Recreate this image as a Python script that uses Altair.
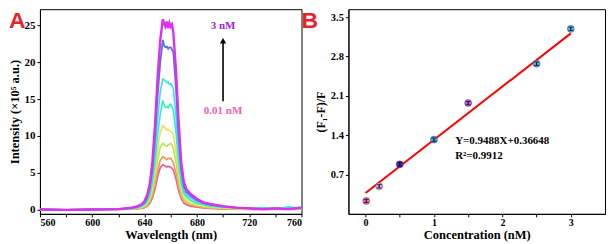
import altair as alt
import pandas as pd

# ---------- Panel A data ----------
wavelength = [560, 580, 600, 620, 630, 635, 638, 640, 642, 644, 646, 648, 650, 652, 654, 655, 656, 657,
              658, 659, 660, 661, 662, 664, 666, 668, 670, 672, 675, 680, 685, 690, 700, 710, 720, 730,
              740, 750, 760]
series_names = ["0.01 nM", "s2", "s3", "s4", "s5", "s6", "s7", "3 nM"]
series_colors = ["#f2559a", "#f3955c", "#b6e34e", "#f0e04c", "#33eec4", "#34e0ee", "#5672e4", "#de2ef2"]
pink = [0.05, 0.0, 0.05, 0.05, 0.08, 0.13, 0.22, 0.3, 0.5, 0.85, 1.6, 2.8, 4.5, 5.7, 6.1, 6.0, 5.9, 5.8,
        5.9, 5.8, 5.8, 5.6, 5.4, 4.2, 2.6, 1.5, 0.9, 0.7, 0.5, 0.35, 0.25, 0.2, 0.1, 0.1, 0.05, 0.05,
        0.1, 0.05, 0.1]
orange = [0.05, 0.0, 0.05, 0.05, 0.1, 0.16, 0.26, 0.36, 0.6, 1.0, 1.9, 3.3, 5.3, 6.7, 7.2, 7.1, 6.9, 6.8,
          7.0, 6.9, 7.0, 6.7, 6.4, 5.0, 3.1, 1.8, 1.1, 0.85, 0.65, 0.45, 0.3, 0.25, 0.15, 0.1, 0.1, 0.05,
          0.1, 0.1, 0.1]
green = [0.05, 0.0, 0.05, 0.06, 0.12, 0.2, 0.33, 0.45, 0.75, 1.3, 2.4, 4.2, 6.7, 8.5, 9.0, 8.8, 8.7, 8.6,
         8.8, 8.9, 9.0, 8.7, 8.3, 6.5, 4.0, 2.3, 1.4, 1.1, 0.8, 0.6, 0.4, 0.3, 0.2, 0.15, 0.1, 0.1,
         0.1, 0.15, 0.1]
yellow = [0.05, 0.0, 0.05, 0.07, 0.15, 0.25, 0.4, 0.55, 0.9, 1.6, 2.9, 5.2, 8.2, 10.5, 11.4, 11.2, 11.0,
          10.8, 10.9, 10.7, 10.6, 10.5, 10.2, 8.0, 4.9, 2.8, 1.7, 1.3, 1.0, 0.7, 0.5, 0.4, 0.25, 0.2,
          0.1, 0.1, 0.15, 0.1, 0.2]
aqua = [0.05, 0.0, 0.05, 0.08, 0.18, 0.3, 0.5, 0.7, 1.1, 2.0, 3.7, 6.5, 10.2, 13.0, 14.8, 14.2, 13.9,
        14.0, 13.8, 14.1, 14.3, 13.9, 13.5, 10.5, 6.4, 3.6, 2.2, 1.7, 1.3, 0.9, 0.7, 0.5, 0.35, 0.25,
        0.2, 0.15, 0.25, 0.2, 0.35]
cyan = [0.05, 0.0, 0.05, 0.1, 0.2, 0.35, 0.6, 0.85, 1.4, 2.4, 4.5, 8.0, 12.5, 16.0, 17.7, 17.6, 17.5,
        17.2, 17.3, 17.0, 17.1, 16.8, 16.4, 12.8, 7.8, 4.3, 2.6, 2.0, 1.6, 1.1, 0.8, 0.6, 0.4, 0.3,
        0.2, 0.3, 0.1, 0.4, 0.2]
blue = [0.05, 0.0, 0.05, 0.1, 0.25, 0.45, 0.7, 1.0, 1.7, 3.0, 5.5, 10.0, 15.5, 20.0, 23.0, 22.2, 22.0,
        22.1, 21.8, 22.0, 22.0, 21.7, 21.3, 16.5, 10.0, 5.5, 3.2, 2.4, 1.9, 1.3, 0.9, 0.7, 0.45, 0.3,
        0.2, 0.1, 0.2, 0.1, 0.25]
magenta = [0.05, 0.0, 0.05, 0.1, 0.3, 0.5, 0.8, 1.2, 2.0, 3.5, 6.5, 11.5, 18.0, 23.0, 25.8, 25.2, 24.8,
           25.5, 24.6, 25.3, 24.8, 25.1, 24.0, 19.0, 12.0, 6.5, 3.8, 2.8, 2.2, 1.5, 1.0, 0.8, 0.5, 0.3,
           0.2, 0.1, 0.2, 0.1, 0.3]
series_values = [pink, orange, green, yellow, aqua, cyan, blue, magenta]
series_widths = [1.6, 1.6, 1.6, 1.6, 1.6, 1.6, 1.8, 2.4]

# ---------- Panel B data ----------
conc = [0.01, 0.2, 0.5, 1.0, 1.5, 2.5, 3.0]
ratio = [0.23, 0.49, 0.88, 1.32, 1.97, 2.67, 3.29]
err = [0.03, 0.03, 0.03, 0.03, 0.03, 0.03, 0.03]
point_colors = ["#f06cc0", "#e0a8e8", "#5a2cc0", "#4aa8f0", "#c064f0", "#52b4f0", "#5ab8f0"]
fit_x = [0.0, 3.0]
fit_y = [0.37, 3.21]

SERIF = "Liberation Serif"

xA = alt.Scale(domain=[560, 760], nice=False, zero=False)
yA = alt.Scale(domain=[-0.54, 27.16], nice=False, zero=False)
axisXA = alt.Axis(title="Wavelength (nm)",
                  values=[560, 580, 600, 620, 640, 660, 680, 700, 720, 740, 760],
                  labelExpr="datum.value % 40 == 0 ? datum.label : ''",
                  tickSize=3, labelPadding=1, titlePadding=1,
                  labelFontSize=10, titleFontSize=12.5)
axisYA = alt.Axis(title="Intensity (×10⁵ a.u.)", values=[0, 5, 10, 15, 20, 25],
                  tickSize=3, labelPadding=2, titlePadding=2,
                  labelFontSize=11, titleFontSize=12.5)

layersA = []
for name, col, vals, sw in zip(series_names, series_colors, series_values, series_widths):
    df = pd.DataFrame({"wl": wavelength, "I": vals})
    layersA.append(alt.Chart(df).mark_line(color=col, strokeWidth=sw, interpolate="linear")
                   .encode(x=alt.X("wl:Q", scale=xA, axis=axisXA),
                           y=alt.Y("I:Q", scale=yA, axis=axisYA)))

ann_df = pd.DataFrame({"x": [700, 700], "y": [24.9, 13.4], "t": ["3 nM", "0.01 nM"],
                       "c": ["#9b22d6", "#f060b0"]})
ann = alt.Chart(ann_df).mark_text(font=SERIF, fontWeight="bold", fontSize=11, baseline="middle").encode(
    x=alt.X("x:Q", scale=xA, axis=axisXA), y=alt.Y("y:Q", scale=yA, axis=axisYA), text="t:N",
    color=alt.Color("c:N", scale=None))
arrow_df = pd.DataFrame({"x": [700], "y1": [14.7], "y2": [22.6]})
arrow = alt.Chart(arrow_df).mark_rule(color="black", strokeWidth=1.6).encode(
    x=alt.X("x:Q", scale=xA, axis=axisXA), y=alt.Y("y1:Q", scale=yA, axis=axisYA), y2="y2:Q")
head_df = pd.DataFrame({"x": [700], "y": [22.9]})
head = alt.Chart(head_df).mark_point(shape="triangle-up", filled=True, color="black", size=40, opacity=1).encode(
    x=alt.X("x:Q", scale=xA, axis=axisXA), y=alt.Y("y:Q", scale=yA, axis=axisYA))
labelA = alt.Chart(pd.DataFrame({"t": ["A"]})).mark_text(
    font="Liberation Sans", fontWeight="bold", fontSize=23, color="#e8232b",
    align="left", baseline="top").encode(x=alt.value(-31), y=alt.value(1), text="t:N")

panelA = alt.layer(*layersA, ann, arrow, head, labelA).properties(width=262, height=205)

# ---------- Panel B ----------
xB = alt.Scale(domain=[-0.25, 3.5], nice=False, zero=False)
yB = alt.Scale(domain=[0.0, 3.64], nice=False, zero=False)
axisXB = alt.Axis(title="Concentration (nM)", values=[0, 0.5, 1, 1.5, 2, 2.5, 3],
                  labelExpr="datum.value % 1 == 0 ? format(datum.value, 'd') : ''",
                  tickSize=3, labelPadding=1, titlePadding=1,
                  labelFontSize=10, titleFontSize=12.5)
axisYB = alt.Axis(title="(F₁-F)/F", values=[0.7, 1.4, 2.1, 2.8, 3.5],
                  format=".1f", tickSize=3, labelPadding=2, titlePadding=3,
                  labelFontSize=10.5, titleFontSize=12)
ptdf = pd.DataFrame({"c": conc, "r": ratio, "lo": [r - e for r, e in zip(ratio, err)],
                     "hi": [r + e for r, e in zip(ratio, err)], "col": point_colors})
fitdf = pd.DataFrame({"x": fit_x, "y": fit_y})

def XB(f):
    return alt.X(f, scale=xB, axis=axisXB)

def YB(f):
    return alt.Y(f, scale=yB, axis=axisYB)

fit = alt.Chart(fitdf).mark_line(color="#ff0000", strokeWidth=2).encode(x=XB("x:Q"), y=YB("y:Q"))
pts = alt.Chart(ptdf).mark_circle(size=50, opacity=1, stroke="#333333", strokeWidth=0.4).encode(
    x=XB("c:Q"), y=YB("r:Q"), color=alt.Color("col:N", scale=None))
ebar = alt.Chart(ptdf).mark_rule(color="black", strokeWidth=1).encode(
    x=XB("c:Q"), y=YB("lo:Q"), y2="hi:Q")
cap_lo = alt.Chart(ptdf).mark_tick(color="black", orient="horizontal", size=5, thickness=1).encode(
    x=XB("c:Q"), y=YB("lo:Q"))
cap_hi = alt.Chart(ptdf).mark_tick(color="black", orient="horizontal", size=5, thickness=1).encode(
    x=XB("c:Q"), y=YB("hi:Q"))
eq_df = pd.DataFrame({"x": [1.31, 1.31], "y": [1.30, 1.03], "t": ["Y=0.9488X+0.36648", "R²=0.9912"]})
eq = alt.Chart(eq_df).mark_text(font=SERIF, fontWeight="bold", fontSize=11, align="left",
                                baseline="middle", color="black").encode(
    x=XB("x:Q"), y=YB("y:Q"), text="t:N")
labelB = alt.Chart(pd.DataFrame({"t": ["B"]})).mark_text(
    font="Liberation Sans", fontWeight="bold", fontSize=23, color="#e8232b",
    align="left", baseline="top").encode(x=alt.value(-47), y=alt.value(1), text="t:N")

panelB = alt.layer(fit, pts, ebar, cap_lo, cap_hi, eq, labelB).properties(width=257, height=205)

chart = alt.hconcat(panelA, panelB, spacing=47, bounds="flush").properties(
    padding={"left": 0, "top": 0, "right": 0, "bottom": 0}, background="white"
).configure_axis(
    labelFont=SERIF, titleFont=SERIF, labelFontWeight="bold", titleFontWeight="bold",
    labelColor="black", titleColor="black", domainColor="black", tickColor="black",
    grid=False, domainWidth=1, tickWidth=1
).configure_view(stroke="black", strokeWidth=1)

chart.save("out.html", embed_options={"renderer": "svg", "actions": False})
